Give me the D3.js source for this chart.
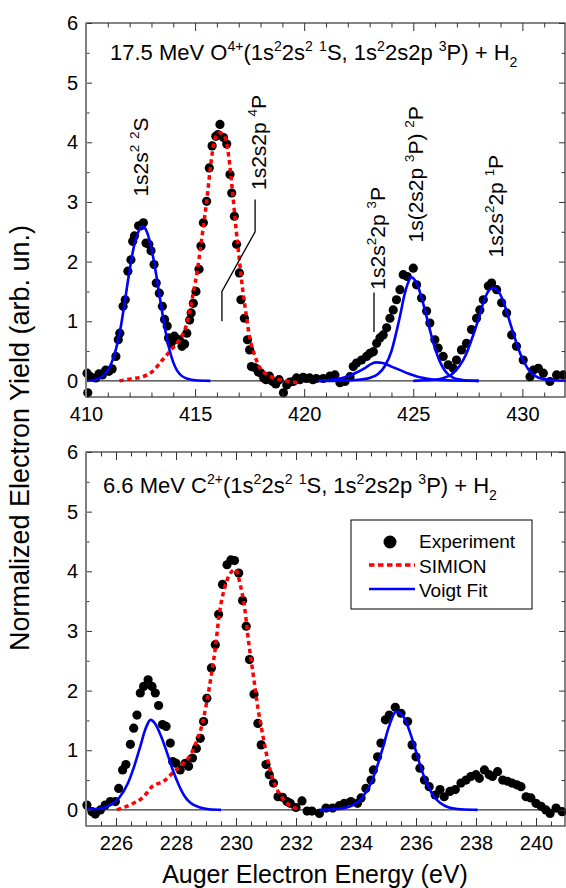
<!DOCTYPE html>
<html>
<head>
<meta charset="utf-8">
<script src="https://d3js.org/d3.v7.min.js"></script>
<style>
  body { margin: 0; background: #fff; }
  text { font-family: Arial, "Liberation Sans", sans-serif; white-space: pre; }
</style>
</head>
<body>
<div id="chart"></div>
<script>
// ---- data ----
// top panel: O4+ on H2, energy (eV) vs normalized yield
const topExp = [
  [410.05,0.13],[410.08,-0.2],[410.2,0.07],[410.45,0.05],[410.6,0.12],[410.75,0.1],[410.9,0.18],[411.05,0.16],
  [411.2,0.2],[411.37,0.41],[411.48,0.69],[411.55,0.8],[411.7,1.25],[411.8,1.36],[411.92,1.84],[412.06,2.03],
  [412.14,2.34],[412.22,2.43],[412.41,2.6],[412.52,2.6],[412.63,2.65],[412.75,2.31],[412.88,2.29],[412.98,2.18],
  [413.12,1.95],[413.22,1.64],[413.36,1.47],[413.5,1.25],[413.6,1.03],[413.72,0.92],[413.78,0.72],[413.9,0.63],
  [414.05,0.75],[414.15,0.7],[414.28,0.69],[414.4,0.58],[414.52,0.62],[414.62,0.8],[414.75,1.02],[414.82,1.14],
  [414.92,1.3],[415.04,1.5],[415.18,1.87],[415.27,2.26],[415.38,2.65],[415.53,3.01],[415.65,3.57],[415.78,3.94],
  [415.95,4.1],[416.05,4.13],[416.14,4.3],[416.3,4.08],[416.45,3.97],[416.6,3.46],[416.68,3.15],[416.8,2.76],
  [416.9,2.29],[417.03,1.81],[417.1,1.36],[417.26,1.05],[417.4,0.69],[417.5,0.52],[417.58,0.24],[417.75,0.22],
  [417.9,0.15],[418.02,0.13],[418.15,0.05],[418.25,0.02],[418.4,0.08],[418.55,-0.01],[418.7,-0.05],[418.85,0.02],
  [419.05,-0.2],[419.2,-0.07],[419.35,-0.02],[419.5,-0.01],[419.65,0.05],[419.8,0.02],[419.95,0.06],[420.1,0.04],
  [420.25,0.05],[420.4,0.02],[420.55,0.04],[420.87,0.04],[421.18,0.08],[421.41,0.1],[421.64,-0.03],[421.87,-0.01],
  [422.1,0.07],[422.25,0.24],[422.4,0.3],[422.63,0.35],[422.86,0.41],[423.01,0.46],[423.17,0.49],[423.32,0.63],
  [423.47,0.72],[423.62,0.77],[423.78,0.89],[423.93,1.05],[424.08,1.19],[424.23,1.36],[424.39,1.53],[424.54,1.78],
  [424.72,1.75],[425.0,1.89],[425.15,1.61],[425.38,1.39],[425.61,1.17],[425.76,0.97],[425.99,0.69],[426.14,0.55],
  [426.37,0.41],[426.6,0.27],[426.83,0.21],[426.98,0.35],[427.21,0.52],[427.44,0.63],[427.67,0.86],[427.9,1.05],
  [428.05,1.19],[428.21,1.36],[428.44,1.59],[428.59,1.64],[428.82,1.53],[429.05,1.31],[429.28,1.14],[429.51,0.77],
  [429.73,0.58],[430.04,0.35],[430.35,0.07],[430.5,0.18],[430.73,0.21],[430.96,0.13],[431.26,-0.01],[431.57,0.1],
  [431.87,0.1]
];
const topSimion = [
  [411.53,0],[412.0,0.03],[412.6,0.07],[413.05,0.16],[413.5,0.35],[413.9,0.52],[414.28,0.69],[414.58,0.91],
  [414.89,1.42],[415.12,1.89],[415.35,2.51],[415.53,3.01],[415.73,3.66],[415.88,4.02],[416.11,4.16],[416.34,4.11],
  [416.54,3.77],[416.72,3.15],[416.88,2.54],[417.03,2.03],[417.18,1.53],[417.33,1.14],[417.49,0.75],[417.72,0.44],
  [417.94,0.24],[418.33,0.1],[418.78,0.03],[419.32,-0.01],[419.7,-0.03]
];
const topFit1 = [
  [410.0,0],[410.4,0.02],[410.7,0.06],[411.0,0.18],[411.2,0.33],[411.4,0.57],[411.6,0.92],[411.8,1.38],
  [412.0,1.86],[412.2,2.26],[412.4,2.5],[412.6,2.59],[412.8,2.49],[413.0,2.22],[413.2,1.82],[413.4,1.36],
  [413.6,0.92],[413.8,0.56],[414.0,0.31],[414.2,0.16],[414.4,0.08],[414.7,0.03],[415.0,0.01],[415.7,0]
];
const topFit2 = [
  [420.65,0],[421.0,0.01],[421.5,0.03],[422.0,0.08],[422.4,0.14],[422.8,0.22],[423.1,0.29],[423.3,0.31],
  [423.6,0.3],[424.0,0.24],[424.4,0.18],[424.8,0.12],[425.2,0.07],[425.6,0.04],[426.0,0.02],[426.5,0.01],[428.0,0]
];
const topFit3 = [
  [420.65,0],[421.5,0],[422.0,0.01],[422.5,0.02],[423.0,0.05],[423.4,0.12],[423.7,0.25],[424.0,0.5],
  [424.2,0.78],[424.4,1.1],[424.6,1.45],[424.8,1.68],[424.9,1.74],[425.0,1.72],[425.2,1.6],[425.4,1.37],
  [425.6,1.09],[425.8,0.8],[426.0,0.54],[426.2,0.34],[426.4,0.2],[426.6,0.11],[426.8,0.06],[427.0,0.03],
  [427.4,0.01],[428.0,0]
];
const topFit4 = [
  [425.0,0],[425.5,0.01],[426.0,0.02],[426.4,0.05],[426.8,0.12],[427.1,0.24],[427.4,0.43],[427.7,0.72],
  [428.0,1.05],[428.2,1.3],[428.4,1.48],[428.65,1.56],[428.9,1.5],[429.1,1.36],[429.3,1.14],[429.5,0.9],
  [429.7,0.67],[429.9,0.46],[430.1,0.3],[430.3,0.18],[430.6,0.08],[431.0,0.03],[431.5,0.01],[432.0,0]
];

// bottom panel: C2+ on H2
const botExp = [
  [225.03,0.08],[225.2,-0.03],[225.31,-0.07],[225.48,0],[225.64,0.08],[225.81,0.14],[225.98,0.14],[226.09,0.36],
  [226.22,0.67],[226.33,0.76],[226.48,1.1],[226.59,1.37],[226.7,1.59],[226.81,1.96],[226.92,2.07],[227.07,2.18],
  [227.2,2.07],[227.31,1.96],[227.42,1.75],[227.55,1.43],[227.67,1.4],[227.81,1.12],[227.89,0.81],[228.0,0.78],
  [228.14,0.67],[228.31,0.78],[228.42,0.73],[228.55,0.87],[228.68,1.03],[228.81,1.2],[228.92,1.48],[229.03,1.87],
  [229.18,2.38],[229.31,2.77],[229.42,3.28],[229.55,3.78],[229.7,4.11],[229.83,4.19],[229.95,4.18],[230.09,3.97],
  [230.22,3.51],[230.34,3.08],[230.45,2.52],[230.6,1.94],[230.73,1.45],[230.84,1.09],[231.0,0.76],[231.11,0.59],
  [231.25,0.45],[231.4,0.22],[231.55,0.21],[231.7,0.14],[231.81,0.11],[232.0,0.04],[232.2,0.15],[232.37,-0.02],
  [232.53,-0.02],[232.78,-0.06],[233.0,0.03],[233.22,0.03],[233.44,0.07],[233.61,0.11],[233.83,0.14],[234.05,0.11],
  [234.17,0.2],[234.33,0.36],[234.5,0.5],[234.58,0.67],[234.72,0.89],[234.83,1.12],[234.98,1.51],[235.11,1.59],
  [235.31,1.72],[235.5,1.62],[235.72,1.48],[235.87,1.09],[236.0,0.89],[236.13,0.7],[236.28,0.5],[236.44,0.39],
  [236.64,0.25],[236.8,0.34],[236.94,0.22],[237.13,0.31],[237.31,0.34],[237.5,0.45],[237.67,0.5],[237.83,0.56],
  [238.0,0.59],[238.11,0.53],[238.28,0.67],[238.44,0.59],[238.55,0.56],[238.72,0.64],[238.89,0.5],[239.05,0.48],
  [239.2,0.45],[239.36,0.42],[239.5,0.39],[239.67,0.22],[239.83,0.2],[240.0,0.11],[240.17,0.06],[240.33,0],
  [240.47,-0.06],[240.67,0.03],[240.87,-0.03]
];
const botSimion = [
  [226.03,0],[226.53,0.1],[226.92,0.22],[227.2,0.39],[227.59,0.48],[227.89,0.62],[228.2,0.76],[228.48,0.92],
  [228.7,1.17],[228.87,1.43],[229.03,1.82],[229.18,2.27],[229.31,2.71],[229.44,3.27],[229.62,3.72],[229.78,3.94],
  [229.98,4.03],[230.14,3.78],[230.29,3.38],[230.42,2.82],[230.59,2.21],[230.73,1.71],[230.89,1.26],[231.07,0.81],
  [231.25,0.48],[231.48,0.25],[231.7,0.11],[231.92,0.04],[232.09,0.02]
];
const botFit1 = [
  [225.0,0.01],[225.4,0.02],[225.8,0.08],[226.1,0.2],[226.4,0.45],[226.6,0.72],[226.8,1.05],[227.0,1.38],
  [227.15,1.51],[227.3,1.45],[227.5,1.24],[227.7,0.96],[227.9,0.66],[228.1,0.41],[228.3,0.22],[228.5,0.11],
  [228.8,0.04],[229.1,0.01],[229.5,0]
];
const botFit2 = [
  [232.78,0],[233.2,0.01],[233.6,0.03],[233.9,0.08],[234.2,0.2],[234.5,0.45],[234.7,0.72],[234.9,1.05],
  [235.1,1.4],[235.35,1.65],[235.6,1.55],[235.8,1.3],[236.0,0.98],[236.2,0.65],[236.4,0.4],[236.6,0.22],
  [236.8,0.12],[237.1,0.04],[237.5,0.01],[238.05,0]
];

const yMajor = [0, 1, 2, 3, 4, 5, 6];
const topXMajor = [410, 415, 420, 425, 430];
const botXMajor = [226, 228, 230, 232, 234, 236, 238, 240];

// titles and peak labels, [text, "sup"/"sub"/""] pieces
const topTitle = [["17.5 MeV O",""],["4+","sup"],["(1s",""],["2","sup"],["2s",""],["2","sup"],[" ",""],["1","sup"],
  ["S, 1s",""],["2","sup"],["2s2p ",""],["3","sup"],["P) + H",""],["2","sub"]];
const botTitle = [["6.6 MeV C",""],["2+","sup"],["(1s",""],["2","sup"],["2s",""],["2","sup"],[" ",""],["1","sup"],
  ["S, 1s",""],["2","sup"],["2s2p ",""],["3","sup"],["P) + H",""],["2","sub"]];
// [energy at label centre, yield at label foot, pieces]
const peakLabels = [
  [412.47, 3.09, [["1s2s",""],["2","sup"],[" ",""],["2","sup"],["S",""]]],
  [417.88, 3.2, [["1s2s2p ",""],["4","sup"],["P",""]]],
  [423.34, 1.53, [["1s2s",""],["2","sup"],["2p ",""],["3","sup"],["P",""]]],
  [425.08, 2.32, [["1s(2s2p ",""],["3","sup"],["P) ",""],["2","sup"],["P",""]]],
  [428.74, 2.07, [["1s2s",""],["2","sup"],["2p ",""],["1","sup"],["P",""]]]
];
const leaders = [
  [[417.75,3.04],[417.75,2.5],[416.23,1.5],[416.23,1.0]],
  [[423.2,1.48],[423.2,0.82]]
];
const legendItems = ["Experiment", "SIMION", "Voigt Fit"];

// ---- drawing ----
const W = 566, H = 888;
const svg = d3.select("#chart").append("svg").attr("width", W).attr("height", H);

function rich(sel, parts, size) {
  let shift = 0;
  parts.forEach(([s, k]) => {
    const target = k === "sup" ? -0.42 * size : k === "sub" ? 0.3 * size : 0;
    sel.append("tspan")
      .attr("dy", target - shift)
      .attr("font-size", k ? size * 0.64 : size)
      .text(s);
    shift = target;
  });
}

function range(a, b, step) {
  const out = [];
  for (let i = 0; a + i * step <= b + 1e-9; i++) out.push(+(a + i * step).toFixed(3));
  return out;
}

function panel(cfg) {
  const x = d3.scaleLinear().domain(cfg.xDomain).range([86, 566]);
  const y = d3.scaleLinear().domain([-0.27, 6]).range([cfg.bottom, cfg.top]);
  const g = svg.append("g");

  // zero line
  g.append("line")
    .attr("x1", x(cfg.xDomain[0])).attr("x2", x(cfg.xDomain[1]))
    .attr("y1", y(0)).attr("y2", y(0))
    .attr("stroke", "#000").attr("stroke-width", 1);

  // experiment points
  g.selectAll(null).data(cfg.exp).join("circle")
    .attr("cx", d => x(d[0])).attr("cy", d => y(d[1]))
    .attr("r", 4.6).attr("fill", "#000");

  const line = d3.line().x(d => x(d[0])).y(d => y(d[1])).curve(d3.curveMonotoneX);

  g.append("path").attr("d", line(cfg.simion))
    .attr("fill", "none").attr("stroke", "#ff0000").attr("stroke-width", 3.5)
    .attr("stroke-dasharray", "4.5,3.5");

  cfg.fits.forEach(f => {
    g.append("path").attr("d", line(f))
      .attr("fill", "none").attr("stroke", "#0000ff").attr("stroke-width", 2.6);
  });

  // axes, ticks inward
  const xMinor = range(cfg.xDomain[0], cfg.xDomain[1], cfg.xMinorStep).filter(v => !cfg.xMajor.includes(v));
  const yMinor = range(0.5, 5.5, 1);

  const bx = g.append("g").attr("transform", `translate(0,${cfg.bottom})`)
    .call(d3.axisBottom(x).tickValues(cfg.xMajor).tickSize(-8).tickPadding(10).tickFormat(d3.format("d")));
  g.append("g").attr("transform", `translate(0,${cfg.bottom})`)
    .call(d3.axisBottom(x).tickValues(xMinor).tickSize(-4.5).tickFormat(""));
  g.append("g").attr("transform", `translate(0,${cfg.top})`)
    .call(d3.axisTop(x).tickValues(cfg.xMajor).tickSize(-8).tickFormat(""));
  g.append("g").attr("transform", `translate(0,${cfg.top})`)
    .call(d3.axisTop(x).tickValues(xMinor).tickSize(-4.5).tickFormat(""));
  const ly = g.append("g").attr("transform", "translate(86,0)")
    .call(d3.axisLeft(y).tickValues(yMajor).tickSize(-6).tickPadding(8).tickFormat(d3.format("d")));
  g.append("g").attr("transform", "translate(86,0)")
    .call(d3.axisLeft(y).tickValues(yMinor).tickSize(-3.5).tickFormat(""));
  g.append("g").attr("transform", "translate(565,0)")
    .call(d3.axisRight(y).tickValues(yMajor).tickSize(-6).tickFormat(""));
  g.append("g").attr("transform", "translate(565,0)")
    .call(d3.axisRight(y).tickValues(yMinor).tickSize(-3.5).tickFormat(""));

  g.selectAll(".domain").remove();
  g.selectAll(".tick line").attr("stroke", "#333");
  bx.selectAll("text").attr("font-size", 20).attr("fill", "#000").style("font-family", "Arial, 'Liberation Sans', sans-serif");
  ly.selectAll("text").attr("font-size", 20).attr("fill", "#000").style("font-family", "Arial, 'Liberation Sans', sans-serif");

  // frame
  g.append("rect").attr("x", 86).attr("y", cfg.top).attr("width", 565 - 86).attr("height", cfg.bottom - cfg.top)
    .attr("fill", "none").attr("stroke", "#333").attr("stroke-width", 1.2);
  g.append("line").attr("x1", 86).attr("x2", 86).attr("y1", cfg.top).attr("y2", cfg.bottom)
    .attr("stroke", "#808080").attr("stroke-width", 2);

  // title
  const t = g.append("text").attr("x", cfg.titleX).attr("y", cfg.titleY).attr("fill", "#000");
  rich(t, cfg.title, 22);

  return { x, y, g };
}

const topPanel = panel({
  xDomain: [410, 432], top: 23, bottom: 397, xMajor: topXMajor, xMinorStep: 1,
  exp: topExp, simion: topSimion, fits: [topFit1, topFit2, topFit3, topFit4],
  title: topTitle, titleX: 110, titleY: 60
});
const botPanel = panel({
  xDomain: [225, 241], top: 452, bottom: 826, xMajor: botXMajor, xMinorStep: 0.5,
  exp: botExp, simion: botSimion, fits: [botFit1, botFit2],
  title: botTitle, titleX: 103, titleY: 493
});

// peak labels in the top panel
peakLabels.forEach(([e, v, parts]) => {
  const t = topPanel.g.append("text")
    .attr("transform", `translate(${topPanel.x(e) + 8},${topPanel.y(v)}) rotate(-90)`)
    .attr("fill", "#000");
  rich(t, parts, 21);
});
leaders.forEach(pts => {
  topPanel.g.append("path")
    .attr("d", d3.line().x(d => topPanel.x(d[0])).y(d => topPanel.y(d[1]))(pts))
    .attr("fill", "none").attr("stroke", "#000").attr("stroke-width", 1.3);
});

// legend in the bottom panel
const lg = svg.append("g").attr("transform", "translate(351,520)");
lg.append("rect").attr("width", 181).attr("height", 89).attr("fill", "#fff").attr("stroke", "#000").attr("stroke-width", 1);
lg.append("circle").attr("cx", 39).attr("cy", 22).attr("r", 6.5).attr("fill", "#000");
lg.append("line").attr("x1", 18).attr("x2", 64).attr("y1", 45).attr("y2", 45)
  .attr("stroke", "#ff0000").attr("stroke-width", 3.5).attr("stroke-dasharray", "5.5,3.5");
lg.append("line").attr("x1", 18).attr("x2", 64).attr("y1", 69).attr("y2", 69)
  .attr("stroke", "#0000ff").attr("stroke-width", 2.6);
lg.selectAll(null).data(legendItems).join("text")
  .attr("x", 68).attr("y", (d, i) => 28 + i * 24.5)
  .attr("font-size", 19).attr("fill", "#000").text(d => d);

// axis titles
svg.append("text").attr("x", 315).attr("y", 883).attr("text-anchor", "middle")
  .attr("font-size", 25).attr("fill", "#000").text("Auger Electron Energy (eV)");
svg.append("text").attr("transform", "translate(29,438) rotate(-90)").attr("text-anchor", "middle")
  .attr("font-size", 27).attr("fill", "#000").text("Normalized Electron Yield (arb. un.)");
</script>
</body>
</html>
